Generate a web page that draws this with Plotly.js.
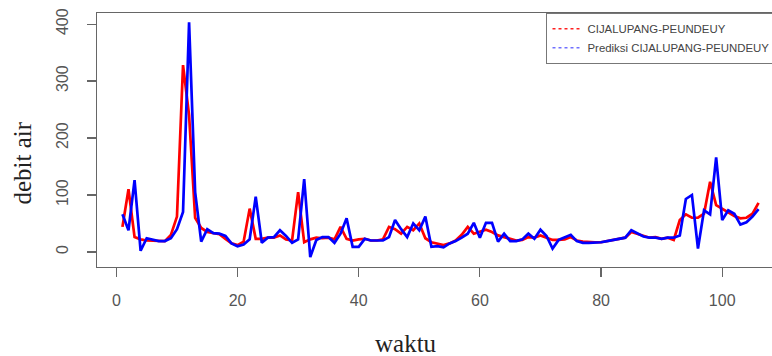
<!DOCTYPE html>
<html>
<head>
<meta charset="utf-8">
<script src="https://cdn.plot.ly/plotly-3.0.1.min.js"></script>
<style>
html, body { margin: 0; padding: 0; overflow: hidden; background: #fff; }
#chart { width: 800px; height: 356px; }
</style>
</head>
<body>
<div id="chart"></div>
<script>
// time index (waktu)
const waktu = Array.from({length: 106}, (_, i) => i + 1);

// observed discharge CIJALUPANG-PEUNDEUY
const observed = [
  44, 110, 26, 22, 20, 20, 19, 19, 30, 62,
  328, 240, 60, 42, 35, 33, 31, 23, 15, 12,
  18, 76, 23, 23, 25, 25, 29, 22, 20, 105,
  17, 22, 25, 24, 25, 22, 44, 23, 20, 22,
  23, 20, 20, 22, 44, 40, 32, 44, 38, 50,
  24, 17, 14, 12, 15, 20, 30, 44, 32, 36,
  39, 35, 29, 26, 23, 20, 21, 26, 25, 29,
  25, 21, 21, 22, 26, 20, 18, 17, 17, 17,
  19, 21, 23, 25, 35, 32, 28, 25, 26, 23,
  25, 21, 56, 66, 60, 60, 67, 123, 82, 76,
  70, 63, 59, 60, 67, 86
];

// predicted discharge
const predicted = [
  66, 38, 126, 2, 24, 21, 19, 19, 24, 40,
  70, 403, 105, 18, 40, 33, 32, 28, 15, 10,
  13, 22, 97, 16, 25, 26, 38, 28, 16, 22,
  128, -9, 21, 26, 26, 16, 32, 59, 9, 9,
  23, 20, 20, 20, 26, 56, 40, 26, 50, 38,
  62, 9, 10, 8, 15, 19, 25, 32, 51, 25,
  51, 51, 18, 32, 19, 19, 22, 32, 23, 39,
  28, 6, 21, 25, 30, 19, 16, 16, 16, 17,
  19, 21, 23, 25, 38, 32, 27, 25, 25, 23,
  25, 25, 29, 93, 100, 6, 73, 66, 166, 56,
  73, 67, 48, 52, 62, 75
];

const seriesNames = ["CIJALUPANG-PEUNDEUY", "Prediksi CIJALUPANG-PEUNDEUY"];
const xTicks = [0, 20, 40, 60, 80, 100];
const yTicks = [0, 100, 200, 300, 400];

const traces = [
  { x: waktu, y: observed, type: "scatter", mode: "lines",
    line: { color: "#ff0000", width: 2.7 }, showlegend: false, hoverinfo: "skip" },
  { x: waktu, y: predicted, type: "scatter", mode: "lines",
    line: { color: "#0000ff", width: 2.7 }, showlegend: false, hoverinfo: "skip" },
  // legend entries (dotted samples, as in the original legend)
  { x: [null], y: [null], type: "scatter", mode: "lines", name: seriesNames[0],
    line: { color: "#ff2020", width: 1.6, dash: "dot" } },
  { x: [null], y: [null], type: "scatter", mode: "lines", name: seriesNames[1],
    line: { color: "#7070ff", width: 1.6, dash: "dot" } }
];

const axisCommon = {
  showgrid: false, zeroline: false, showline: true, mirror: true,
  linecolor: "#666", linewidth: 1.3,
  ticks: "outside", ticklen: 9, tickwidth: 1.2, tickcolor: "#666",
  tickfont: { family: "Liberation Sans, Arial, sans-serif", size: 16, color: "#555" }
};

const layout = {
  width: 800, height: 356,
  margin: { l: 96.6, r: 16.2, t: 13, b: 89.2 },
  paper_bgcolor: "#fff", plot_bgcolor: "#fff",
  xaxis: Object.assign({}, axisCommon, {
    range: [-3.2, 110.2], tickvals: xTicks, ticktext: xTicks.map(String),
    ticklabelstandoff: 9
  }),
  yaxis: Object.assign({}, axisCommon, {
    range: [-26.5, 419.5], tickvals: yTicks, ticktext: yTicks.map(String),
    tickangle: -90, ticklabelstandoff: 12
  }),
  legend: {
    x: 0.654, y: 1, xanchor: "left", yanchor: "top",
    bgcolor: "#fff", bordercolor: "#777", borderwidth: 1.2,
    font: { family: "Liberation Sans, Arial, sans-serif", size: 11.4, color: "#444" },
    tracegroupgap: 0, itemwidth: 30
  },
  annotations: [
    { text: "debit air", xref: "paper", yref: "paper", x: -0.1086, y: 0.409,
      xanchor: "center", yanchor: "middle", textangle: -90, showarrow: false,
      font: { family: "Liberation Serif, Times New Roman, serif", size: 25, color: "#222" } },
    { text: "waktu", xref: "paper", yref: "paper", x: 0.450, y: -0.300,
      xanchor: "center", yanchor: "middle", showarrow: false,
      font: { family: "Liberation Serif, Times New Roman, serif", size: 25, color: "#222" } }
  ]
};

Plotly.newPlot("chart", traces, layout, { staticPlot: true, displayModeBar: false });
</script>
</body>
</html>
